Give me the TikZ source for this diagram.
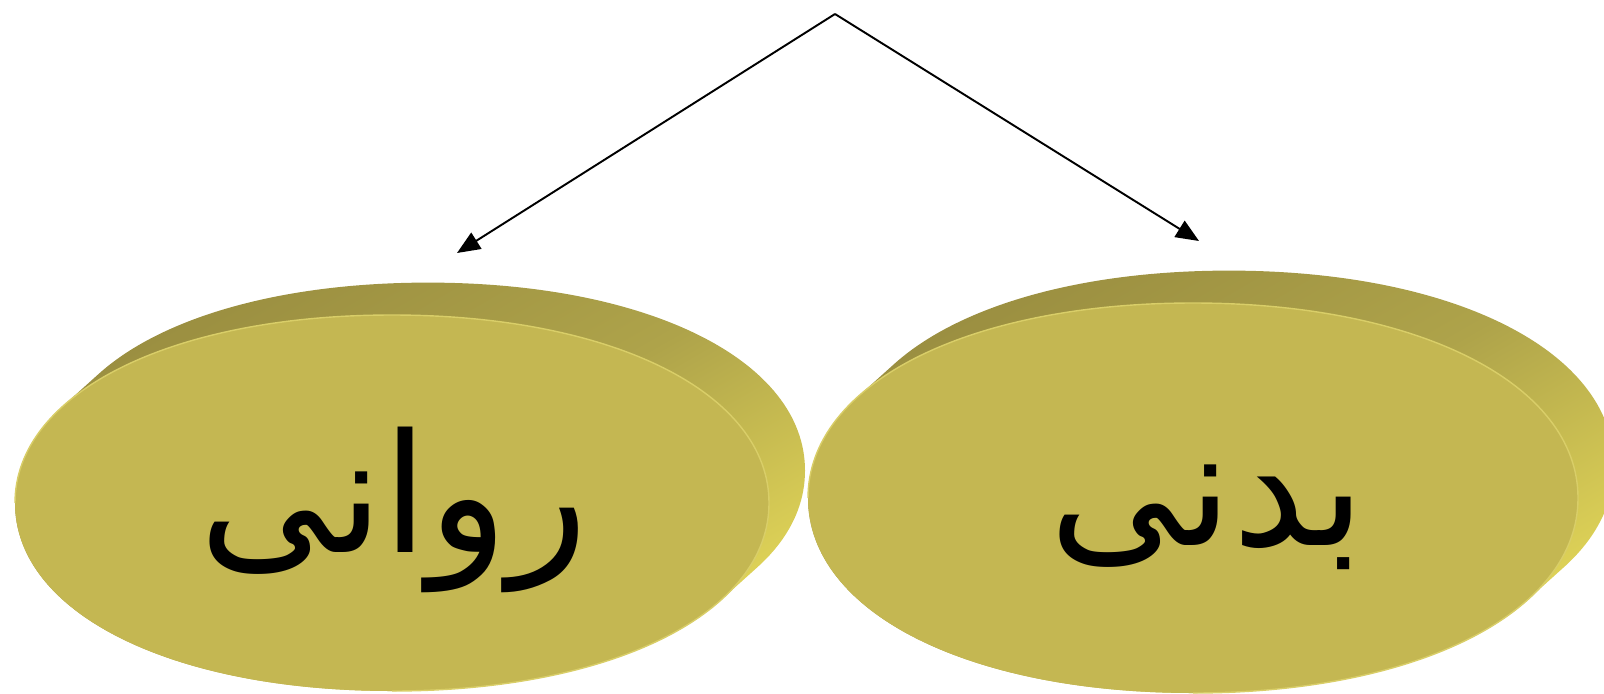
\documentclass[tikz,border=0pt]{standalone}
\usepackage{fontspec}
\usetikzlibrary{arrows.meta}
\TeXXeTstate=1
\newfontfamily\arabicfont[Script=Arabic]{DejaVu Sans}
\definecolor{discface}{HTML}{C4B752}
\definecolor{discdark}{HTML}{9A8E40}
\definecolor{discmid}{HTML}{AEA34A}
\definecolor{disclight}{HTML}{E2D658}
\definecolor{discrim}{HTML}{D9CE68}

% rounded disc outline: centre x, centre y, radius x, radius y
\def\dk{0.585}
\newcommand\discpath[4]{
    (#1+#3,#2) .. controls (#1+#3,#2+\dk*#4) and (#1+\dk*#3,#2+#4) .. (#1,#2+#4)
    .. controls (#1-\dk*#3,#2+#4) and (#1-#3,#2+\dk*#4) .. (#1-#3,#2)
    .. controls (#1-#3,#2-\dk*#4) and (#1-\dk*#3,#2-#4) .. (#1,#2-#4)
    .. controls (#1+\dk*#3,#2-#4) and (#1+#3,#2-\dk*#4) .. cycle
}
\newcommand\discrimpath[4]{
    (#1-#3,#2) .. controls (#1-#3,#2-\dk*#4) and (#1-\dk*#3,#2-#4) .. (#1,#2-#4)
    .. controls (#1+\dk*#3,#2-#4) and (#1+#3,#2-\dk*#4) .. (#1+#3,#2)
    .. controls (#1+#3,#2+\dk*#4) and (#1+\dk*#3,#2+#4) .. (#1,#2+#4)
}

\begin{document}
\begin{tikzpicture}[
    x=0.02cm, y=-0.02cm,
    >={Triangle[length=0.46cm,width=0.38cm]},
    disctext/.style={
        font=\arabicfont\fontsize{94}{110}\selectfont,
        text=black,
        anchor=base,
        inner sep=0pt
    },
    arrow/.style={
        ->,
        line width=1.1pt,
        draw=black
    }
]
    \useasboundingbox (0,0) rectangle (1604,693);

    % name/centre x/centre y/radius x/radius y/text x/baseline/text
    \foreach \name/\cx/\cy/\rx/\ry/\tx/\ty/\txt in {
        ravani/392/503/377/188/394/552/{روانی},
        badani/1193/498/385/195/1181/545/{بدنی}
    }{
        \shade[top color=discdark, bottom color=disclight,
               middle color=discmid, shading angle=30]
            \foreach \i in {0,...,24}{
                \discpath{\cx+1.5*\i}{\cy-1.35*\i}{\rx}{\ry}
            };
        \fill[discface] \discpath{\cx}{\cy}{\rx}{\ry};
        \draw[discrim, line width=0.8pt] \discrimpath{\cx}{\cy}{\rx}{\ry};
        \node[disctext] (\name) at (\tx,\ty) {\beginR\txt\endR};
    }

    \coordinate (top) at (835,14);
    \coordinate (ravani-in) at (457,253);
    \coordinate (badani-in) at (1199,241);

    \draw[arrow] (top) -- (ravani-in);
    \draw[arrow] (top) -- (badani-in);

\end{tikzpicture}
\end{document}
